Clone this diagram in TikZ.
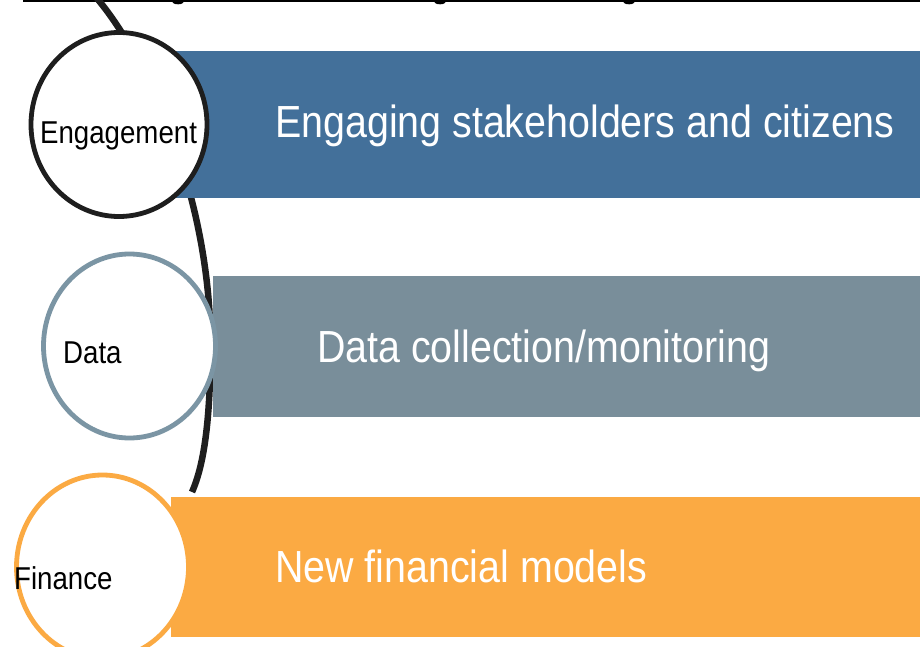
\documentclass[tikz,border=0pt]{standalone}
\usepackage{fontspec}
\setmainfont{Liberation Sans}
\definecolor{engblue}{HTML}{43709A}
\definecolor{datagray}{HTML}{798E9A}
\definecolor{datastroke}{HTML}{7B95A4}
\definecolor{finorange}{HTML}{FBAA43}
\definecolor{arcblack}{HTML}{1E1E1E}
\tikzset{
  band/.style={fill=#1, draw=none},
  topic/.style={draw=#1, line width=4.8pt, fill=white},
  bigtext/.style={anchor=base west, inner sep=0pt, text=white, xscale=0.875,
    font=\fontsize{45}{54}\selectfont},
  label/.style={anchor=base west, inner sep=0pt, text=black, xscale=0.875,
    font=\fontsize{31.6}{38}\selectfont},
  bracket/.style={draw=arcblack, line width=6.5pt},
}
\begin{document}
\begin{tikzpicture}[x=1pt,y=-1pt]
\useasboundingbox (0,0) rectangle (920,647);
\fill[white] (0,0) rectangle (920,647);
% cut-off title remnants
\fill[black] (23,0) rectangle (920,2.4);
\fill[black] (178,1.5) ellipse [x radius=6, y radius=2.8];
\fill[black] (440,1.5) ellipse [x radius=6, y radius=2.8];
\fill[black] (629,1.5) ellipse [x radius=6, y radius=2.8];
% bracket arc
\draw[bracket] (95,-4) .. controls (150,60) and (210.5,200) .. (210.5,345)
  .. controls (210.5,420) and (204,465) .. (192,492);
% bands
\path[band=engblue] (174,51) rectangle (920,198);
\path[band=datagray] (213,276) rectangle (920,417);
\path[band=finorange] (171,497) rectangle (920,637);
% circles
\draw[topic=arcblack] (119,124.5) ellipse [x radius=88, y radius=92];
\draw[topic=datastroke] (129.5,346) ellipse [x radius=86, y radius=92];
\draw[topic=finorange] (102.5,567) ellipse [x radius=86, y radius=92];
% labels
\node[label] (engl) at (40,143.3) {Engagement};
\node[label] (datal) at (63,363) {Data};
\node[label] (finl) at (14,589) {Finance};
% band texts
\node[bigtext] (engt) at (275,138) {Engaging stakeholders and citizens};
\node[bigtext] (datat) at (317,362) {Data collection/monitoring};
\node[bigtext] (fint) at (275,582) {New financial models};
\end{tikzpicture}
\end{document}
